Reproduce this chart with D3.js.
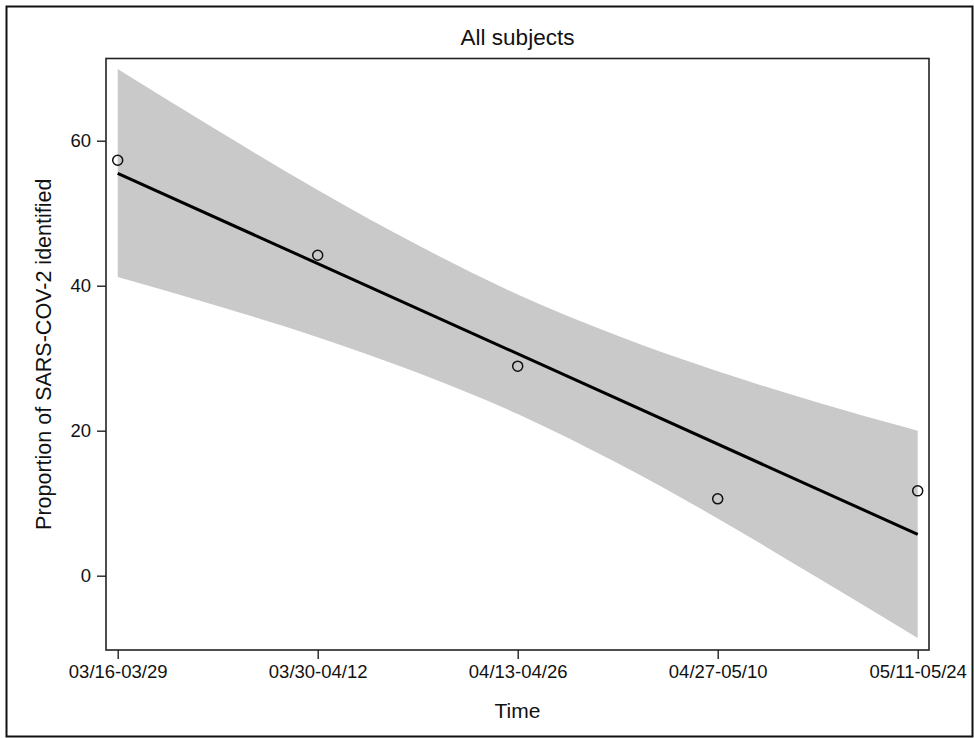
<!doctype html>
<html>
<head>
<meta charset="utf-8">
<title>All subjects</title>
<script src="https://cdn.jsdelivr.net/npm/d3@7"></script>
<style>
  body { margin: 0; background: white; }
  svg { display: block; font-family: "Liberation Sans", Arial, Helvetica, sans-serif; }
</style>
</head>
<body>
<svg id="chart" width="974" height="738"></svg>
<script>
// two-week windows on the x axis
var periods = ['03/16-03/29', '03/30-04/12', '04/13-04/26', '04/27-05/10', '05/11-05/24'];
// observed proportion (%) per window
var observed = [57.3, 44.2, 28.9, 10.6, 11.7];
// fitted line at first and last window
var fitX = [0, 4];
var fitY = [55.5, 5.7];
// confidence band read at half-window steps
var bandX = [0, 0.5, 1, 1.5, 2, 2.5, 3, 3.5, 4];
var bandUpper = [69.9, 61.4, 53.2, 45.6, 38.8, 33.1, 28.2, 23.9, 20.0];
var bandLower = [41.2, 37.2, 32.9, 28.0, 22.3, 15.5, 7.9, -0.3, -8.6];
var yTicks = [0, 20, 40, 60];

var svg = d3.select('#chart');

var box = {left: 106, right: 929, top: 58.5, bottom: 650};

var x = d3.scaleLinear()
    .domain([0, periods.length - 1])
    .range([117.7, 917.7]);
var y = d3.scaleLinear()
    .domain([-10.25, 71.34])
    .range([box.bottom, box.top]);

// outer frame
svg.append('rect')
    .attr('x', 6.5).attr('y', 6.5)
    .attr('width', 966).attr('height', 730)
    .attr('fill', 'white')
    .attr('stroke', '#111')
    .attr('stroke-width', 2);

// confidence band
var band = bandX.map(function (d, i) { return {x: d, hi: bandUpper[i], lo: bandLower[i]}; });
var area = d3.area()
    .x(function (d) { return x(d.x); })
    .y0(function (d) { return y(d.lo); })
    .y1(function (d) { return y(d.hi); })
    .curve(d3.curveMonotoneX);
svg.append('path')
    .datum(band)
    .attr('d', area)
    .attr('fill', '#c9c9c9');

// fitted line
var line = d3.line()
    .x(function (d) { return x(d[0]); })
    .y(function (d) { return y(d[1]); });
svg.append('path')
    .datum(d3.zip(fitX, fitY))
    .attr('d', line)
    .attr('fill', 'none')
    .attr('stroke', 'black')
    .attr('stroke-width', 3);

// observed points
svg.append('g')
  .selectAll('circle')
  .data(observed)
  .enter().append('circle')
    .attr('cx', function (d, i) { return x(i); })
    .attr('cy', function (d) { return y(d); })
    .attr('r', 5)
    .attr('fill', 'none')
    .attr('stroke', '#111')
    .attr('stroke-width', 1.5);

// plot box
svg.append('rect')
    .attr('x', box.left).attr('y', box.top)
    .attr('width', box.right - box.left).attr('height', box.bottom - box.top)
    .attr('fill', 'none')
    .attr('stroke', '#222')
    .attr('stroke-width', 1.6);

// axes
var yAxis = svg.append('g')
    .attr('transform', 'translate(' + box.left + ',0)')
    .call(d3.axisLeft(y).tickValues(yTicks).tickSize(9).tickPadding(6));
var xAxis = svg.append('g')
    .attr('transform', 'translate(0,' + box.bottom + ')')
    .call(d3.axisBottom(x).tickValues(d3.range(periods.length))
      .tickFormat(function (i) { return periods[i]; })
      .tickSize(9).tickPadding(6));

[yAxis, xAxis].forEach(function (g) {
  g.select('.domain').remove();
  g.selectAll('.tick line').attr('stroke', '#222').attr('stroke-width', 1.4);
  g.selectAll('.tick text')
      .attr('fill', '#111')
      .style('font-size', '18.5px')
      .style('font-family', '"Liberation Sans", Arial, sans-serif');
});

// titles
svg.append('text')
    .attr('x', (box.left + box.right) / 2)
    .attr('y', 45)
    .attr('text-anchor', 'middle')
    .style('font-size', '22.5px')
    .attr('fill', '#111')
    .text('All subjects');

svg.append('text')
    .attr('x', (box.left + box.right) / 2)
    .attr('y', 718)
    .attr('text-anchor', 'middle')
    .style('font-size', '21px')
    .attr('fill', '#111')
    .text('Time');

svg.append('text')
    .attr('transform', 'translate(51,' + (box.top + box.bottom) / 2 + ') rotate(-90)')
    .attr('text-anchor', 'middle')
    .style('font-size', '21.5px')
    .attr('fill', '#111')
    .text('Proportion of SARS-COV-2 identified');
</script>
</body>
</html>
